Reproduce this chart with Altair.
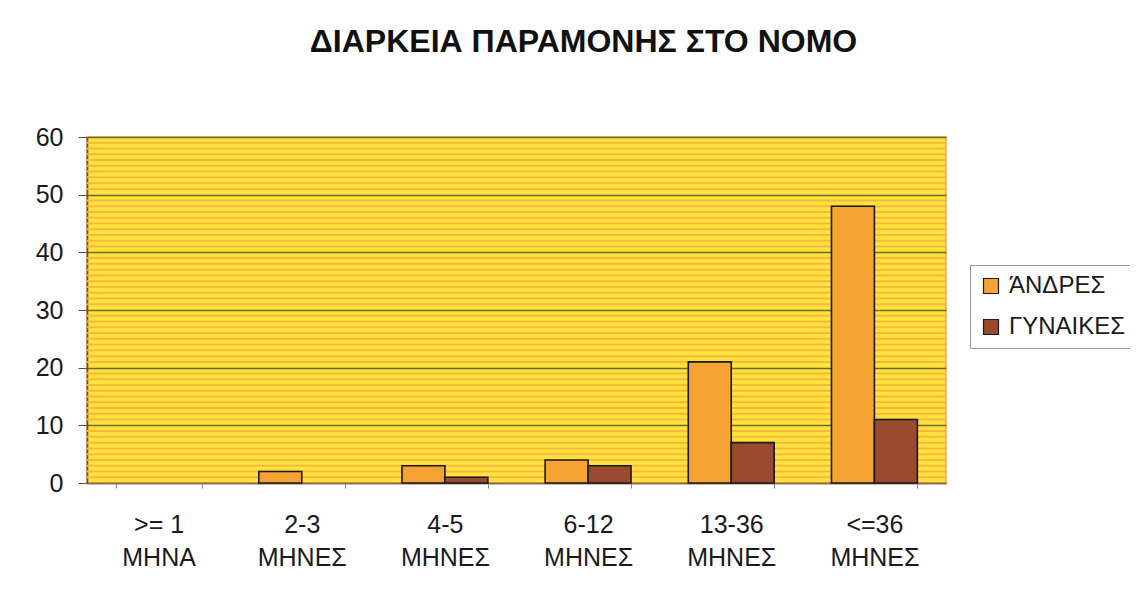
import altair as alt
import pandas as pd

title_text = "ΔΙΑΡΚΕΙΑ ΠΑΡΑΜΟΝΗΣ ΣΤΟ ΝΟΜΟ"
cat_line1 = [">= 1", "2-3", "4-5", "6-12", "13-36", "<=36"]
cat_line2 = ["ΜΗΝΑ", "ΜΗΝΕΣ", "ΜΗΝΕΣ", "ΜΗΝΕΣ", "ΜΗΝΕΣ", "ΜΗΝΕΣ"]
series_names = ["ΆΝΔΡΕΣ", "ΓΥΝΑΙΚΕΣ"]
men = [0, 2, 3, 4, 21, 48]
women = [0, 0, 1, 3, 7, 11]
series_colors = ["#F7A333", "#9A4A2E"]
y_ticks = [0, 10, 20, 30, 40, 50, 60]
stripe_values = [v for v in range(1, 60) if v % 10 != 0]

categories = [a + "\n" + b for a, b in zip(cat_line1, cat_line2)]
rows = []
for c, m, w in zip(categories, men, women):
    rows.append({"cat": c, "series": series_names[0], "value": m})
    rows.append({"cat": c, "series": series_names[1], "value": w})
df = pd.DataFrame(rows)
stripes = pd.DataFrame({"s": stripe_values})

W, H = 859, 346

yscale = alt.Scale(domain=[0, 60], nice=False, zero=True)
yaxis = alt.Axis(
    title=None,
    values=y_ticks,
    labelFont="Liberation Sans",
    labelFontSize=25,
    labelColor="#1a1a1a",
    labelPadding=15,
    tickSize=9,
    tickColor="#555533",
    grid=True,
    gridColor="#6E6A2A",
    gridWidth=1.3,
    domainColor="#6B4A2A",
    domainWidth=1.6,
)

stripe_layer = alt.Chart(stripes).mark_rule(color="#F9B83C", strokeWidth=2).encode(
    y=alt.Y("s:Q", scale=yscale, axis=yaxis)
)

bars = alt.Chart(df).transform_filter("datum.value > 0").mark_bar(
    stroke="#1a1a1a", strokeWidth=1.6
).encode(
    x=alt.X(
        "cat:N",
        sort=categories,
        scale=alt.Scale(domain=categories, paddingInner=0.4, paddingOuter=0.2),
        axis=alt.Axis(
            title=None,
            labelExpr="split(datum.label, '\\n')",
            labelAngle=0,
            labelFont="Liberation Sans",
            labelFontSize=25,
            labelColor="#1a1a1a",
            labelPadding=24,
            labelLineHeight=33,
            tickBand="extent",
            ticks=True,
            tickSize=5,
            tickColor="#888888",
            domainColor="#8B6B4A",
            domainWidth=1.5,
            grid=False,
        ),
    ),
    xOffset=alt.XOffset("series:N", sort=series_names, scale=alt.Scale(domain=series_names)),
    y=alt.Y("value:Q", scale=yscale, axis=yaxis),
    color=alt.Color(
        "series:N",
        sort=series_names,
        scale=alt.Scale(domain=series_names, range=series_colors),
        legend=alt.Legend(
            title=None,
            orient="none",
            legendX=883,
            legendY=128,
            symbolType="square",
            symbolSize=225,
            symbolStrokeColor="#1a1a1a",
            symbolStrokeWidth=1.2,
            labelFont="Liberation Sans",
            labelFontSize=24,
            labelColor="#1a1a1a",
            rowPadding=17,
            padding=9,
            strokeColor="#999999",
            fillColor="white",
            labelOffset=6,
        ),
    ),
)

chart = (
    alt.layer(stripe_layer, bars)
    .properties(
        width=W,
        height=H,
        padding={"left": 79, "top": 129, "right": 184, "bottom": 100},
        autosize=alt.AutoSizeParams(type="none"),
        title=alt.TitleParams(
            title_text,
            font="Liberation Sans",
            fontSize=32,
            fontWeight="bold",
            color="#111111",
            anchor="middle",
            dx=67,
            offset=66,
        ),
        background="white",
    )
    .configure_view(fill="#FFE23C", stroke="#F2A35A", strokeWidth=1.5)
)

chart.save("out.html", embed_options={"renderer": "svg", "actions": False})
